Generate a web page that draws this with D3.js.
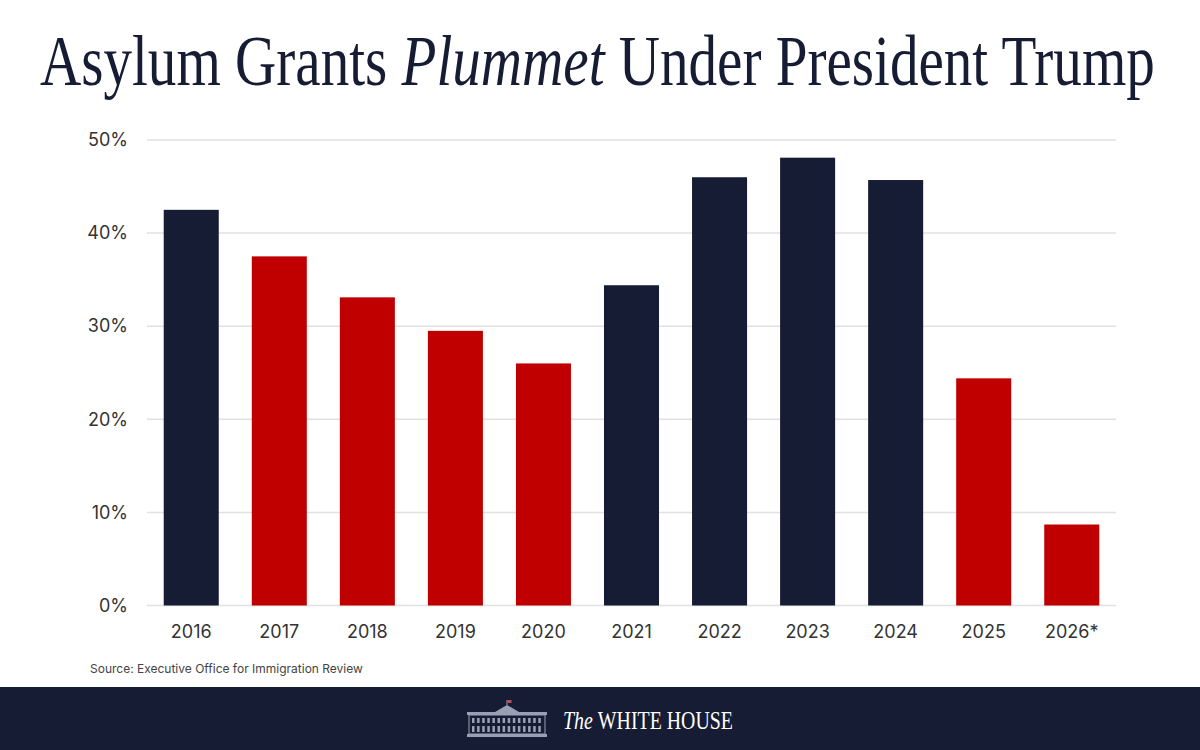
<!DOCTYPE html>
<html>
<head>
<meta charset="utf-8">
<script src="https://cdn.jsdelivr.net/npm/d3@7"></script>
<style>
  html, body { margin: 0; padding: 0; background: #fff; }
  svg { display: block; }
</style>
</head>
<body>
<div id="chart"></div>
<script>
// data
const years = ['2016', '2017', '2018', '2019', '2020', '2021', '2022', '2023', '2024', '2025', '2026*'];
const grantRates = [42.5, 37.5, 33.1, 29.5, 26.0, 34.4, 46.0, 48.1, 45.7, 24.4, 8.7];
// which administration: 'trump' bars are red
const admin = ['obama', 'trump', 'trump', 'trump', 'trump', 'biden', 'biden', 'biden', 'biden', 'trump', 'trump'];
const yTicks = [0, 10, 20, 30, 40, 50];

const width = 1200;
const height = 750;
const navy = '#161c33';
const red = '#c00000';

const svg = d3.select('#chart').append('svg')
  .attr('width', width)
  .attr('height', height);

// titre
const title = svg.append('text')
  .attr('x', 0)
  .attr('y', 85)
  .attr('fill', navy)
  .style('font-family', '"Liberation Serif", "DejaVu Serif", serif')
  .style('font-size', '72px');
title.append('tspan').text('Asylum Grants ');
title.append('tspan').style('font-style', 'italic').text('Plummet');
title.append('tspan').text(' Under President Trump');
// squeeze it to the condensed look of the original
const tw = title.node().getComputedTextLength();
title.attr('transform', `translate(40,0) scale(${1115 / tw},1)`);

// scales
const x = d3.scaleBand()
  .domain(years)
  .range([147, 1116])
  .paddingInner(0.375)
  .paddingOuter(0.19);

const y = d3.scaleLinear()
  .domain([0, 50])
  .range([605.5, 140]);

// grid
svg.append('g')
  .selectAll('line')
  .data(yTicks)
  .join('line')
  .attr('x1', 147)
  .attr('x2', 1116)
  .attr('y1', d => y(d))
  .attr('y2', d => y(d))
  .attr('stroke', '#e1e1e1')
  .attr('stroke-width', 1.5);

// y axis labels
const yAxis = svg.append('g')
  .attr('transform', 'translate(128,0)')
  .call(d3.axisLeft(y).tickValues(yTicks).tickFormat(d => d + '%').tickSize(0).tickPadding(0));
yAxis.select('.domain').remove();
yAxis.selectAll('text')
  .attr('fill', '#333')
  .style('font-family', 'Inter, "Open Sans", sans-serif')
  .style('font-size', '18px');

// bars
svg.append('g')
  .selectAll('rect')
  .data(years)
  .join('rect')
  .attr('x', d => x(d))
  .attr('width', x.bandwidth())
  .attr('y', (d, i) => y(grantRates[i]))
  .attr('height', (d, i) => y(0) - y(grantRates[i]))
  .attr('fill', (d, i) => admin[i] === 'trump' ? red : navy);

// x axis labels
const xAxis = svg.append('g')
  .attr('transform', `translate(0,${y(0)})`)
  .call(d3.axisBottom(x).tickSize(0).tickPadding(20));
xAxis.select('.domain').remove();
xAxis.selectAll('text')
  .attr('fill', '#333')
  .style('font-family', 'Inter, "Open Sans", sans-serif')
  .style('font-size', '18px');

// source
svg.append('text')
  .attr('x', 90)
  .attr('y', 673)
  .attr('fill', '#444')
  .style('font-family', 'Inter, "Open Sans", sans-serif')
  .style('font-size', '12px')
  .text('Source: Executive Office for Immigration Review');

// bandeau du bas
svg.append('rect')
  .attr('x', 0)
  .attr('y', 687)
  .attr('width', width)
  .attr('height', height - 687)
  .attr('fill', navy);

// little White House drawing
const logo = svg.append('g').attr('transform', 'translate(467,700)').attr('fill', '#9aa0b4');
logo.append('rect').attr('x', 0).attr('y', 12).attr('width', 80).attr('height', 3);
logo.append('rect').attr('x', 2).attr('y', 15).attr('width', 76).attr('height', 19).attr('fill', 'none')
  .attr('stroke', '#9aa0b4').attr('stroke-width', 1);
logo.append('rect').attr('x', 0).attr('y', 34).attr('width', 80).attr('height', 3);
logo.append('path').attr('d', 'M28,12 L40,5 L52,12 Z');
logo.append('rect').attr('x', 39.5).attr('y', 0).attr('width', 1).attr('height', 5);
logo.append('rect').attr('x', 40.5).attr('y', 0).attr('width', 4).attr('height', 3).attr('fill', '#c84a5a');
d3.range(14).forEach(i => {
  logo.append('rect')
    .attr('x', 5 + i * 5.1)
    .attr('y', 18)
    .attr('width', 2.5)
    .attr('height', 5);
  logo.append('rect')
    .attr('x', 5 + i * 5.1)
    .attr('y', 26)
    .attr('width', 2.5)
    .attr('height', 6);
});

const brand = svg.append('text')
  .attr('x', 0)
  .attr('y', 729)
  .attr('fill', '#ffffff')
  .style('font-family', '"Liberation Serif", "DejaVu Serif", serif')
  .style('font-size', '25px');
brand.append('tspan').style('font-style', 'italic').text('The ');
brand.append('tspan').text('WHITE HOUSE');
const bw = brand.node().getComputedTextLength();
brand.attr('transform', `translate(563,0) scale(${170 / bw},1)`);
</script>
</body>
</html>
